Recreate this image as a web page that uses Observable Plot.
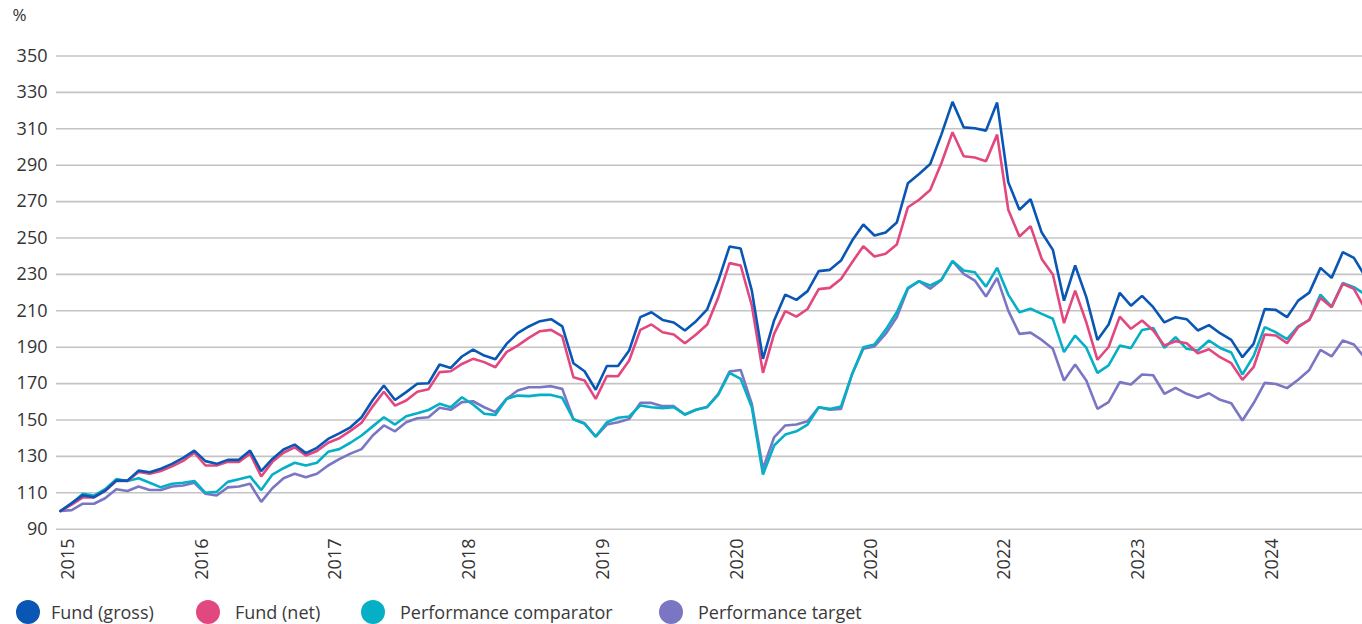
<!DOCTYPE html>
<html>
<head>
<meta charset="utf-8">
<script src="https://cdn.jsdelivr.net/npm/d3@7"></script>
<script src="https://cdn.jsdelivr.net/npm/@observablehq/plot@0.6"></script>
<style>
  html, body { margin: 0; padding: 0; background: #fff; }
  body { font-family: "Open Sans", Lato, sans-serif; color: #333; width: 1362px; overflow: hidden; }
  #legend { position: relative; height: 34px; }
  .item { position: absolute; top: 5px; height: 34px; display: flex; align-items: center; font-size: 18px; color: #3a3a3a; white-space: nowrap; }
  .dot { width: 24px; height: 24px; border-radius: 50%; flex: none; }
</style>
</head>
<body>
<div id="chart"></div>
<div id="legend"></div>
<script>
const seriesNames = ["Fund (gross)", "Fund (net)", "Performance comparator", "Performance target"];
const seriesColors = ["#0a56b5", "#e2477f", "#05b0c6", "#7b76c4"];
const yearLabels = ["2015", "2016", "2017", "2018", "2019", "2020", "2020", "2022", "2023", "2024"];
const yTicks = [90, 110, 130, 150, 170, 190, 210, 230, 250, 270, 290, 310, 330, 350];

const fundGross = [100,104.3,108.7,107.6,111.2,116.7,116.7,122.2,121.3,123.2,125.9,129.2,133.2,127.4,125.9,128.1,128.1,133.2,121.9,128.6,133.8,136.5,131.8,134.7,139.6,142.7,146,151.5,161,169,161,165.3,169.9,170.2,180.5,178.6,184.9,188.7,185.4,183.4,191.8,197.7,201.4,204.3,205.4,201.4,181.2,176.8,166.6,179.7,179.7,188.2,206.5,209.2,205,203.6,199.2,204.3,210.8,226.6,245.3,244.2,221.1,183.6,204.7,218.9,216,220.8,231.8,232.5,237.6,248.6,257.4,251.4,253,258.5,280.1,285.2,290.7,306.8,324.8,310.8,310.3,309,324.4,280.7,265.5,271.3,253,243.5,215.6,234.9,217.5,194,202.5,219.9,212.8,218.2,212,203.6,206.5,205.4,199.2,202.1,197.7,194,184.5,191.8,210.9,210.5,206.5,215.6,220,233.6,228.1,242.2,239.1,229];
const fundNet = [100,103.5,107.5,107.5,111,116.5,116.5,121.5,120.5,122,124.5,127.5,132,125,125,127,127,131.5,119,127,132,135,130.5,133,137.5,140,144,148.5,157.5,165.5,157.9,160.7,165.5,166.9,176.3,176.8,180.8,183.6,181.8,179,187.3,190.9,195.1,198.8,199.5,195.9,173.5,171.7,161.6,174.2,174,182.7,199.5,202.5,198.2,197,192.2,197,202.5,217.5,236.2,234.9,212.9,175.9,197.3,209.8,206.8,211,221.9,222.6,227.5,236.7,245.5,239.8,241.3,246.4,266.9,271,276.4,291.1,308.1,294.9,294.2,292.2,306.8,265.5,250.8,256.5,238.5,229.9,203.2,221.1,203.7,183.1,190.1,206.8,200.1,204.7,199.2,190.9,193.3,192.2,186.7,188.9,184.5,181.2,172.1,179,197,196.4,192.2,201,205,217.1,212,224.8,222.1,211];
const comparator = [100,104,109.5,108.5,112,117.5,116.5,118,115.5,113,115,115.5,116.5,110,110.5,116,117.5,119,111.5,120,123.5,126.5,125,126.5,132.5,134,137.5,141.5,146.5,151.5,147.5,152.1,153.7,155.5,158.9,157,162.5,158.5,153.4,152.8,161.6,163.4,163.1,163.8,163.8,162.2,150.4,147.9,140.9,148.8,151.2,151.9,158,157,156.5,157,153,155.6,157.2,164,175.9,172.6,157,120,136,142,143.8,147.5,157,156.1,157.4,175.3,190,191.5,199.5,209.2,222.6,226.3,223.9,227,237.3,232.1,231.2,223.3,233.6,218.9,209.2,211.1,208.3,205.6,187.3,196.4,189.7,175.9,180,190.9,189.5,199.5,200.6,189.6,195.5,189.1,188.2,193.7,189.6,187.1,175,185.1,201,198.2,194.4,201.4,205,218.9,212.3,225.3,223,219];
const target = [100,100.5,104,104,107,112,111,113.5,111.5,111.5,113.5,114,115.5,109.5,108.5,113,113.5,115,105,112.5,118,120.5,118.5,120.5,125,128.5,131.5,134,141.5,147,143.8,148.8,151,151.5,156.7,155.6,159.8,160.3,157,154.3,161.6,166.2,168,168,168.6,167.1,150.4,148.2,140.9,147.5,148.8,150.6,159.4,159.4,157.6,157.6,153,155.6,157.2,164.4,176.6,177.5,158.9,123.2,140.5,147,147.5,149.3,157,155.6,156.1,175.3,189.1,190.4,197.3,206.5,222.1,226.3,222.1,227,237.3,230.3,226.6,217.8,228.1,210.1,197.3,198,194,189.1,171.7,180.5,171.7,156.1,159.8,170.8,169.5,175,174.6,164.4,167.7,164.4,162.2,164.7,161.1,159.2,149.7,159.2,170.4,169.8,167.5,172.1,177.5,188.5,184.9,193.7,191.5,184];

const seriesValues = [fundGross, fundNet, comparator, target];
// draw order: target first, gross on top
const rows = [];
for (const s of [3, 2, 1, 0]) {
  seriesValues[s].forEach((v, i) => rows.push({i, v, series: seriesNames[s]}));
}
const xTickIdx = yearLabels.map((_, k) => k * 12);

const chart = Plot.plot({
  width: 1362,
  height: 590,
  marginLeft: 56,
  marginRight: 0,
  marginTop: 55.5,
  marginBottom: 61.3,
  style: {fontFamily: "'Open Sans', Lato, sans-serif", fontSize: "18px", color: "#333", background: "#fff"},
  x: {domain: [-0.36, 116.77], axis: null},
  y: {domain: [90, 350], axis: null},
  color: {domain: seriesNames, range: seriesColors},
  marks: [
    Plot.ruleY(yTicks, {stroke: "#c4c4c4", strokeWidth: 1.6}),
    Plot.axisY({ticks: yTicks, tickSize: 0, tickPadding: 9, label: null, fontSize: 18, fill: "#333"}),
    Plot.text(["%"], {frameAnchor: "top-left", textAnchor: "start", lineAnchor: "middle", dx: -44, dy: -40, fontSize: 17, fill: "#333"}),
    Plot.text(xTickIdx, {x: d => d, y: () => 90, text: (d, k) => yearLabels[k], rotate: -90, textAnchor: "end", lineAnchor: "bottom", dx: 13.3, dy: 9.3, fontSize: 18, fill: "#333"}),
    Plot.line(rows, {x: "i", y: "v", z: "series", stroke: "series", strokeWidth: 2.6, clip: true, strokeLinejoin: "miter"})
  ]
});
document.getElementById("chart").append(chart);

const legendPos = [{dot: 16, text: 51}, {dot: 196, text: 235}, {dot: 361, text: 400}, {dot: 659, text: 698}];
const legend = document.getElementById("legend");
seriesNames.forEach((name, k) => {
  const item = document.createElement("div");
  item.className = "item";
  item.style.left = legendPos[k].dot + "px";
  const dot = document.createElement("span");
  dot.className = "dot";
  dot.style.background = seriesColors[k];
  dot.style.marginRight = (legendPos[k].text - legendPos[k].dot - 24) + "px";
  const label = document.createElement("span");
  label.textContent = name;
  item.append(dot, label);
  legend.append(item);
});
</script>
</body>
</html>
